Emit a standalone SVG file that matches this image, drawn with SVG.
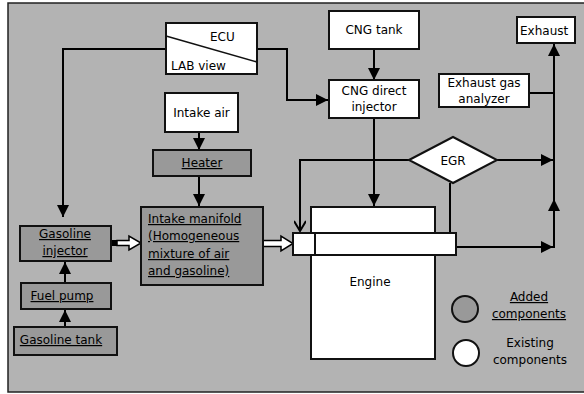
<svg xmlns="http://www.w3.org/2000/svg" width="584" height="394" viewBox="0 0 584 394">
<defs>
<style>
.t{font-family:"DejaVu Sans","Liberation Sans",sans-serif;font-size:12px;fill:#000}
.u{text-decoration:underline}
.box{stroke:#111;stroke-width:2}
.w{fill:#fff}
.g{fill:#999}
.ln{fill:none;stroke:#000;stroke-width:2}
.ha{fill:#fff;stroke:#000;stroke-width:1.5}
</style>
<marker id="a2" viewBox="0 0 12 12" markerWidth="12" markerHeight="12" refX="12" refY="6" orient="auto" markerUnits="userSpaceOnUse">
<path d="M0,0 L12,6 L0,12 Z" fill="#000"/>
</marker>
<marker id="av" viewBox="0 0 12 12" markerWidth="12" markerHeight="12" refX="11" refY="6" orient="auto" markerUnits="userSpaceOnUse">
<path d="M1,0 L11,6 L1,12" fill="none" stroke="#000" stroke-width="2"/>
</marker>
</defs>
<rect x="8" y="3" width="590" height="389" fill="#b3b3b3" stroke="#222" stroke-width="1.5"/>

<g id="connectors">
<polyline class="ln" points="166,49 63,49 63,217" marker-end="url(#a2)"/>
<polyline class="ln" points="257,49 287,49 287,100 328,100" marker-end="url(#a2)"/>
<line class="ln" x1="374" y1="49" x2="374" y2="80" marker-end="url(#a2)"/>
<line class="ln" x1="374" y1="118" x2="374" y2="206" marker-end="url(#a2)"/>
<line class="ln" x1="199" y1="132" x2="199" y2="150" marker-end="url(#a2)"/>
<line class="ln" x1="199" y1="176" x2="199" y2="206" marker-end="url(#a2)"/>
<line class="ln" x1="65" y1="283" x2="65" y2="262" marker-end="url(#a2)"/>
<line class="ln" x1="65" y1="327" x2="65" y2="310" marker-end="url(#a2)"/>
<polyline class="ln" points="409,160 300,160 300,231" marker-end="url(#av)"/>
<line class="ln" x1="497" y1="160" x2="553" y2="160" marker-end="url(#a2)"/>
<line class="ln" x1="450" y1="183" x2="450" y2="233"/>
<line class="ln" x1="456" y1="247" x2="553" y2="247" marker-end="url(#a2)"/>
<line class="ln" x1="554" y1="248" x2="554" y2="199" marker-end="url(#a2)"/>
<line class="ln" x1="554" y1="200" x2="554" y2="44" marker-end="url(#a2)"/>
<line class="ln" x1="529" y1="93" x2="554" y2="93"/>
<rect x="112" y="240" width="5" height="6" fill="#000"/>
<path class="ha" d="M117,240.5 H129 V236 L141,243 L129,250 V245.5 H117 Z"/>
<path class="ha" d="M256,240.5 H281 V236 L293,243.5 L281,251 V246.5 H256 Z"/>
</g>

<g id="ecu">
<rect class="box w" x="166" y="23" width="91" height="51"/>
<line x1="166" y1="36" x2="257" y2="62" stroke="#111" stroke-width="1.5"/>
<text class="t" x="210" y="41">ECU</text>
<text class="t" x="171" y="70">LAB view</text>
</g>
<g id="cng-tank">
<rect class="box w" x="329" y="11" width="90" height="38"/>
<text class="t" x="374" y="34" text-anchor="middle">CNG tank</text>
</g>
<g id="cng-injector">
<rect class="box w" x="329" y="80" width="90" height="38"/>
<text class="t" x="374" y="95" text-anchor="middle">CNG direct</text>
<text class="t" x="374" y="111" text-anchor="middle">injector</text>
</g>
<g id="exhaust">
<rect class="box w" x="517" y="17" width="58" height="26"/>
<text class="t" x="520" y="35">Exhaust</text>
</g>
<g id="analyzer">
<rect class="box w" x="439" y="74" width="90" height="33"/>
<text class="t" x="484" y="87" text-anchor="middle">Exhaust gas</text>
<text class="t" x="484" y="103" text-anchor="middle">analyzer</text>
</g>
<g id="egr">
<polygon class="box w" points="409,160 453,137 497,160 453,183"/>
<text class="t" x="453" y="165" text-anchor="middle">EGR</text>
</g>
<g id="intake-air">
<rect class="box w" x="165" y="93" width="73" height="39"/>
<text class="t" x="201.5" y="117" text-anchor="middle">Intake air</text>
</g>
<g id="heater">
<rect class="box g" x="153" y="150" width="98" height="26"/>
<text class="t u" x="202" y="167" text-anchor="middle">Heater</text>
</g>
<g id="intake-manifold">
<rect class="box g" x="141" y="207" width="122" height="78"/>
<text class="t u" x="148" y="223">Intake manifold</text>
<text class="t u" x="148" y="240">(Homogeneous</text>
<text class="t u" x="148" y="258">mixture of air</text>
<text class="t u" x="148" y="275">and gasoline)</text>
</g>
<g id="gasoline-injector">
<rect class="box g" x="20" y="226" width="91" height="35"/>
<text class="t u" x="65" y="238" text-anchor="middle">Gasoline</text>
<text class="t u" x="65" y="255" text-anchor="middle">injector</text>
</g>
<g id="fuel-pump">
<rect class="box g" x="21" y="283" width="90" height="26"/>
<text class="t u" x="62" y="300" text-anchor="middle">Fuel pump</text>
</g>
<g id="gasoline-tank">
<rect class="box g" x="14" y="327" width="103" height="28"/>
<text class="t u" x="61" y="344" text-anchor="middle">Gasoline tank</text>
</g>
<g id="engine">
<rect class="box w" x="311" y="207" width="124" height="152"/>
<rect class="box w" x="293" y="233" width="163" height="22"/>
<line x1="315" y1="233" x2="315" y2="255" stroke="#111" stroke-width="2"/>
<text class="t" x="370" y="286" text-anchor="middle">Engine</text>
</g>
<g id="legend">
<circle cx="465" cy="309" r="13" fill="#999" stroke="#111" stroke-width="2"/>
<circle cx="466" cy="353" r="13" fill="#fff" stroke="#111" stroke-width="2"/>
<text class="t u" x="529" y="301" text-anchor="middle">Added</text>
<text class="t u" x="529" y="318" text-anchor="middle">components</text>
<text class="t" x="530" y="347" text-anchor="middle">Existing</text>
<text class="t" x="530" y="364" text-anchor="middle">components</text>
</g>
</svg>
